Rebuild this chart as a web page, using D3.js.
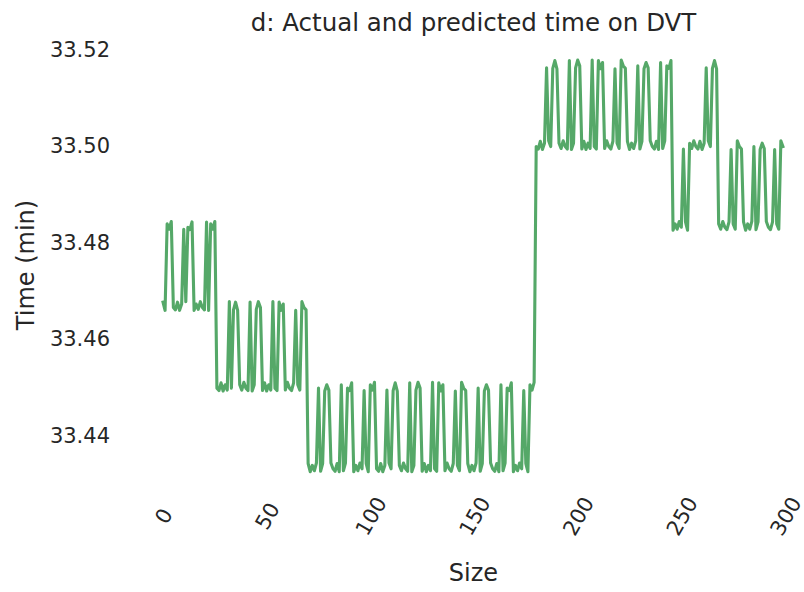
<!DOCTYPE html>
<html>
<head>
<meta charset="utf-8">
<script src="https://cdn.jsdelivr.net/npm/d3@7/dist/d3.min.js"></script>
<style>
  html, body { margin: 0; padding: 0; background: #ffffff; }
  svg { display: block; }
  text { font-family: "DejaVu Sans", sans-serif; fill: #262626; }
</style>
</head>
<body>
<svg id="chart" width="804" height="592"></svg>
<script>
// Time on DVT (minutes) for each sample size index 0..299
const timeMinutes = [
  33.4675, 33.4658, 33.4837, 33.4826, 33.4842, 33.4664, 33.4659, 33.4675, 33.4658, 33.4671,
  33.4826, 33.4676, 33.4830, 33.4825, 33.4841, 33.4658, 33.4671, 33.4660, 33.4676, 33.4664,
  33.4659, 33.4841, 33.4658, 33.4837, 33.4826, 33.4842, 33.4497, 33.4492, 33.4508, 33.4491,
  33.4504, 33.4493, 33.4676, 33.4497, 33.4659, 33.4675, 33.4658, 33.4504, 33.4493, 33.4509,
  33.4497, 33.4492, 33.4675, 33.4491, 33.4504, 33.4660, 33.4676, 33.4664, 33.4492, 33.4508,
  33.4491, 33.4504, 33.4493, 33.4676, 33.4497, 33.4492, 33.4675, 33.4658, 33.4671, 33.4493,
  33.4509, 33.4497, 33.4492, 33.4508, 33.4658, 33.4504, 33.4493, 33.4676, 33.4664, 33.4659,
  33.4341, 33.4324, 33.4337, 33.4326, 33.4342, 33.4497, 33.4325, 33.4341, 33.4491, 33.4504,
  33.4493, 33.4342, 33.4330, 33.4325, 33.4341, 33.4324, 33.4504, 33.4326, 33.4342, 33.4497,
  33.4492, 33.4508, 33.4324, 33.4337, 33.4326, 33.4342, 33.4330, 33.4492, 33.4341, 33.4324,
  33.4504, 33.4493, 33.4509, 33.4330, 33.4325, 33.4341, 33.4324, 33.4337, 33.4493, 33.4342,
  33.4330, 33.4492, 33.4508, 33.4491, 33.4337, 33.4326, 33.4342, 33.4330, 33.4325, 33.4508,
  33.4324, 33.4337, 33.4493, 33.4509, 33.4497, 33.4325, 33.4341, 33.4324, 33.4337, 33.4326,
  33.4509, 33.4330, 33.4325, 33.4508, 33.4491, 33.4504, 33.4326, 33.4342, 33.4330, 33.4325,
  33.4341, 33.4491, 33.4337, 33.4326, 33.4509, 33.4497, 33.4492, 33.4341, 33.4324, 33.4337,
  33.4326, 33.4342, 33.4497, 33.4325, 33.4341, 33.4491, 33.4504, 33.4493, 33.4342, 33.4330,
  33.4325, 33.4341, 33.4324, 33.4504, 33.4326, 33.4342, 33.4497, 33.4492, 33.4508, 33.4324,
  33.4337, 33.4326, 33.4342, 33.4330, 33.4492, 33.4341, 33.4324, 33.4504, 33.4493, 33.4509,
  33.4997, 33.4992, 33.5008, 33.4991, 33.5004, 33.5160, 33.5009, 33.4997, 33.5159, 33.5175,
  33.5158, 33.5004, 33.4993, 33.5009, 33.4997, 33.4992, 33.5175, 33.4991, 33.5004, 33.5160,
  33.5176, 33.5164, 33.4992, 33.5008, 33.4991, 33.5004, 33.4993, 33.5176, 33.4997, 33.4992,
  33.5175, 33.5158, 33.5171, 33.4993, 33.5009, 33.4997, 33.4992, 33.5008, 33.5158, 33.5004,
  33.4993, 33.5176, 33.5164, 33.5159, 33.5008, 33.4991, 33.5004, 33.4993, 33.5009, 33.5164,
  33.4992, 33.5008, 33.5158, 33.5171, 33.5160, 33.5009, 33.4997, 33.4992, 33.5008, 33.4991,
  33.5171, 33.4993, 33.5009, 33.5164, 33.5159, 33.5175, 33.4824, 33.4837, 33.4826, 33.4842,
  33.4830, 33.4992, 33.4841, 33.4824, 33.5004, 33.4993, 33.5009, 33.4997, 33.4992, 33.5008,
  33.4991, 33.5004, 33.5160, 33.5009, 33.4997, 33.5159, 33.5175, 33.5158, 33.4837, 33.4826,
  33.4842, 33.4830, 33.4825, 33.4841, 33.4991, 33.4837, 33.4826, 33.5009, 33.4997, 33.4992,
  33.4841, 33.4824, 33.4837, 33.4826, 33.4842, 33.4997, 33.4825, 33.4841, 33.4991, 33.5004,
  33.4993, 33.4842, 33.4830, 33.4825, 33.4841, 33.4991, 33.4837, 33.4826, 33.5009, 33.4997
];

const xTicks = [0, 50, 100, 150, 200, 250, 300];
const yTicks = [33.44, 33.46, 33.48, 33.50, 33.52];

const titleText = "d: Actual and predicted time on DVT";
const xLabel = "Size";
const yLabel = "Time (min)";
const lineColor = "#55a868";

const svg = d3.select("#chart");

const x = d3.scaleLinear().domain([0, 300]).range([163, 785]);
const y = d3.scaleLinear().domain([33.44, 33.52]).range([435, 48.5]);

// y axis: labels only, right-aligned
const yAxis = svg.append("g")
  .attr("transform", "translate(110,0)")
  .call(d3.axisLeft(y).tickValues(yTicks).tickSize(0).tickPadding(0).tickFormat(d3.format(".2f")));
yAxis.select(".domain").remove();
yAxis.selectAll("text")
  .attr("dy", "0.36em")
  .style("font-family", "DejaVu Sans")
  .style("font-size", "21px")
  .attr("fill", "#262626");

// x axis: rotated labels centred under each tick
const xAxis = svg.append("g")
  .attr("transform", "translate(0,516)")
  .call(d3.axisBottom(x).tickValues(xTicks).tickSize(0).tickFormat(d3.format("d")));
xAxis.select(".domain").remove();
xAxis.selectAll("text")
  .attr("y", 0)
  .attr("dy", "0.36em")
  .attr("text-anchor", "middle")
  .attr("transform", "rotate(-60)")
  .style("font-family", "DejaVu Sans")
  .style("font-size", "21px")
  .attr("fill", "#262626");

// series line
const line = d3.line()
  .x((d, i) => x(i))
  .y(d => y(d));

svg.append("path")
  .datum(timeMinutes)
  .attr("d", line)
  .attr("fill", "none")
  .attr("stroke", lineColor)
  .attr("stroke-width", 3.1)
  .attr("stroke-linejoin", "round")
  .attr("stroke-linecap", "square");

// title and axis labels
svg.append("text")
  .attr("x", 473.5)
  .attr("y", 31)
  .attr("text-anchor", "middle")
  .style("font-size", "24.5px")
  .text(titleText);

svg.append("text")
  .attr("x", 473.5)
  .attr("y", 581)
  .attr("text-anchor", "middle")
  .style("font-size", "24px")
  .text(xLabel);

svg.append("text")
  .attr("transform", "translate(34,265) rotate(-90)")
  .attr("text-anchor", "middle")
  .style("font-size", "24px")
  .text(yLabel);
</script>
</body>
</html>
